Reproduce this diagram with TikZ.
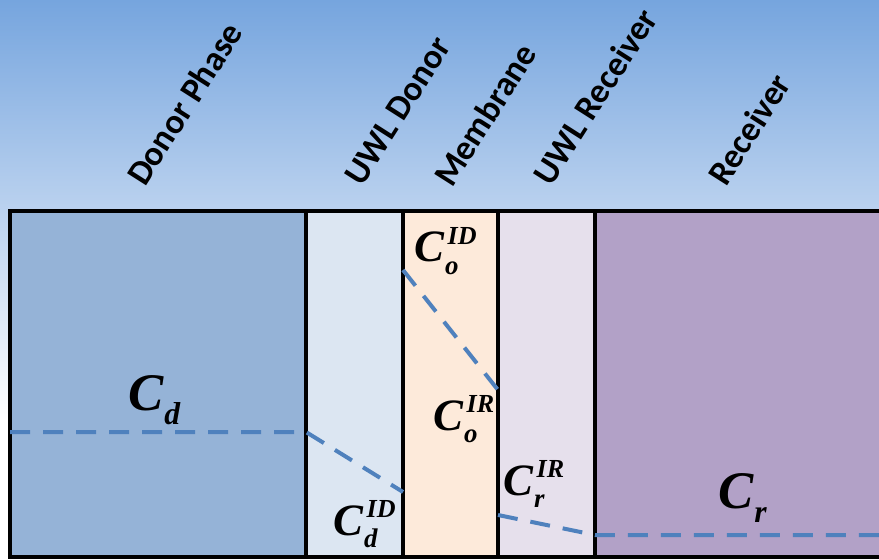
\documentclass[tikz,border=0pt]{standalone}
\usepackage{fontspec}
\usepackage{graphicx}
\usepackage{tikz}
\usetikzlibrary{calc}

\newfontfamily\phasefamily{Carlito}
\newfontfamily\concfamily{Liberation Serif}

\definecolor{skytop}{HTML}{76A5DE}
\definecolor{skymid}{HTML}{BBD2EF}
\definecolor{donorfill}{HTML}{95B3D7}
\definecolor{uwldfill}{HTML}{DCE6F2}
\definecolor{membfill}{HTML}{FDEADA}
\definecolor{uwlrfill}{HTML}{E6E0EC}
\definecolor{recfill}{HTML}{B2A1C7}
\definecolor{dashblue}{HTML}{4F81BD}

% concentration label: C with subscript #1 and superscript #2
\newcommand{\concl}[2]{C\rlap{\kern0.08em\raisebox{0.38em}{\scalebox{0.58}{#2}}}\kern0.02em\raisebox{-0.27em}{\scalebox{0.6}{#1}}}

\begin{document}
\begin{tikzpicture}[
    x=1bp, y=-1bp,
    wall/.style={draw=black, line width=4bp},
    profile/.style={draw=dashblue, line width=4bp, dash pattern=on 20bp off 13bp},
    phase/.style={font=\phasefamily\bfseries\fontsize{35}{40}\selectfont, rotate=57.5, anchor=base west, inner sep=0pt},
    bigc/.style={font=\concfamily\bfseries\itshape\fontsize{53}{58}\selectfont, anchor=base west, inner sep=0pt},
    smallc/.style={font=\concfamily\bfseries\itshape\fontsize{45}{50}\selectfont, anchor=base west, inner sep=0pt},
]
\useasboundingbox (0,0) rectangle (879,560);
\clip (0,0) rectangle (879,560);

% background
\shade[top color=skytop, bottom color=skymid] (0,0) rectangle (879,211);
\shade[top color=skymid, bottom color=white] (0,211) rectangle (879,420);
\fill[white] (0,420) rectangle (879,560);

% columns
\fill[donorfill] (10,211) rectangle (306,557);
\fill[uwldfill] (306,211) rectangle (403,557);
\fill[membfill] (403,211) rectangle (498,557);
\fill[uwlrfill] (498,211) rectangle (595,557);
\fill[recfill] (595,211) rectangle (890,557);

% borders
\draw[wall] (895,211) -- (10,211) -- (10,557) -- (895,557);
\foreach \xx in {306,403,498,595}
  \draw[wall] (\xx,211) -- (\xx,557);

% concentration profile
\coordinate (pd0) at (10,432);
\coordinate (pd1) at (306,432);
\coordinate (pd2) at (403,492);
\coordinate (pm1) at (403,270);
\coordinate (pm2) at (498,390);
\coordinate (pr1) at (498,515);
\coordinate (pr2) at (595,535);
\coordinate (pr3) at (885,535);
\draw[profile] (pd0) -- (pd1) -- (pd2);
\draw[profile] (pm1) -- (pm2);
\draw[profile] (pr1) -- (pr2) -- (pr3);

% phase labels
\node[phase] (lbldonor) at (145,188) {Donor Phase};
\node[phase] (lbluwld) at (362,188) {UWL Donor};
\node[phase] (lblmemb) at (452,189) {Membrane};
\node[phase] (lbluwlr) at (551,188) {UWL Receiver};
\node[phase] (lblrec) at (726,188) {Receiver};

% concentrations
\node[bigc] (cd) at (128,410) {\concl{d}{}};
\node[smallc] (cdid) at (333,535) {\concl{d}{ID}};
\node[smallc] (coid) at (414,262) {\concl{o}{ID}};
\node[smallc] (coir) at (433,430) {\concl{o}{IR}};
\node[smallc] (crir) at (503,495) {\concl{r}{IR}};
\node[bigc] (cr) at (718,508) {\concl{r}{}};
\end{tikzpicture}
\end{document}
